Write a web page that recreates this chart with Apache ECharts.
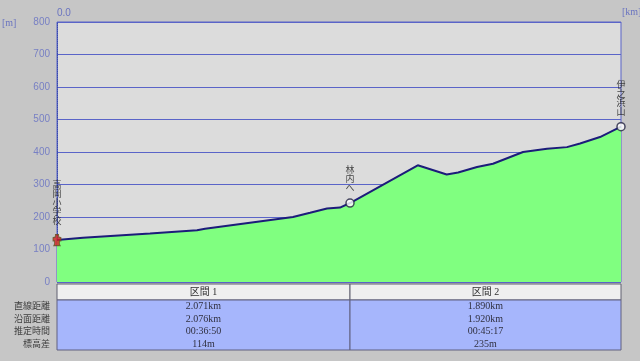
<!DOCTYPE html>
<html><head><meta charset="utf-8">
<script src="https://cdn.jsdelivr.net/npm/echarts@6/dist/echarts.min.js"></script>
<style>html,body{margin:0;padding:0;background:#c6c6c6}#c{width:640px;height:361px}</style>
</head><body><div id="c"></div>
<script>
// Profile (distance km, elevation m)
const distKm = [0, 0.184, 0.659, 0.992, 1.049, 1.672, 1.793, 1.913, 2.005, 2.076, 2.556, 2.761, 2.842, 2.976, 3.089, 3.302, 3.472, 3.613, 3.706, 3.847, 3.996];
const elevM  = [129, 136, 149, 159, 164, 200, 213, 226, 229, 243, 359, 331, 337, 354, 364, 400, 410, 415, 426, 446, 478];
// Waypoints
const wpNames = ['高岡小学校', '林内へ', '伊之浜山'];
const wpKm = [0, 2.076, 3.996];
const wpM = [129, 243, 478];
// Axis
const yMin = 0, yMax = 800, yStep = 100;
const xMin = 0, xMax = 3.996;
const xUnit = '[km]', yUnit = '[m]';
// Table
const sections = ['区間 1', '区間 2'];
const rowLabels = ['直線距離', '沿面距離', '推定時間', '標高差'];
const sec1Values = ['2.071km', '2.076km', '00:36:50', '114m'];
const sec2Values = ['1.890km', '1.920km', '00:45:17', '235m'];

const chart = echarts.init(document.getElementById('c'));
const FONT = "'Liberation Serif','Noto Sans CJK JP',serif";
const profile = distKm.map((d, i) => [d, elevM[i]]);

const option = {
  backgroundColor: '#c6c6c6',
  animation: false,
  grid: { left: 57, top: 22, width: 564, height: 260, show: true, backgroundColor: '#dcdcdc', borderColor: '#5a64c8', borderWidth: 1, containLabel: false, outerBoundsMode: 'none' },
  xAxis: {
    type: 'value', min: xMin, max: xMax, position: 'top',
    axisLine: { show: false }, axisTick: { show: false }, splitLine: { show: false },
    axisLabel: { customValues: [xMin], formatter: v => v.toFixed(1), align: 'left', margin: 4, color: '#6a74c0', fontSize: 10, fontFamily: 'Liberation Sans' }
  },
  yAxis: {
    type: 'value', min: yMin, max: yMax, interval: yStep,
    axisLine: { show: true, lineStyle: { color: '#3848b0', type: 'dotted', width: 1 } },
    axisTick: { show: false },
    splitLine: { show: true, lineStyle: { color: '#5a64c8', width: 1 } },
    axisLabel: { color: '#7880c4', fontSize: 10, fontFamily: 'Liberation Sans', margin: 7 }
  },
  series: [
    {
      type: 'line', data: profile, symbol: 'none', z: 3,
      lineStyle: { color: '#1c1c7a', width: 2 },
      areaStyle: { color: '#80ff80', opacity: 1 }
    },
    {
      type: 'line', data: [[wpKm[1], yMin], [wpKm[1], wpM[1]]], symbol: 'none', z: 2,
      lineStyle: { color: '#a8a8a8', width: 2 }
    },
    {
      type: 'scatter', z: 5,
      data: wpKm.map((d, i) => ({
        value: [d, wpM[i]],
        symbol: i === 0 ? 'path://M4,0 L8,0 L8,3 L11,4 L11,8 L9,8 L9,12 L10,14 L2,14 L3,12 L3,8 L1,8 L1,4 L4,3 Z' : 'circle',
        symbolSize: i === 0 ? [8, 11] : 8,
        itemStyle: i === 0 ? { color: '#d02020', borderColor: '#605020', borderWidth: 1 } : { color: '#ffffff', borderColor: '#202040', borderWidth: 1.5 },
        label: { distance: i === 0 ? 9 : 6 }
      })),
      label: {
        show: true, position: 'top',
        formatter: p => wpNames[p.dataIndex].split('').join('\n'),
        color: '#202020', fontSize: 9, lineHeight: 9, fontFamily: "'Noto Sans CJK JP'"
      }
    }
  ]
};
chart.setOption(option);

// Table below the plot
const left = chart.convertToPixel({ gridIndex: 0 }, [xMin, 0]);
const mid = chart.convertToPixel({ gridIndex: 0 }, [wpKm[1], 0]);
const right = chart.convertToPixel({ gridIndex: 0 }, [xMax, yMax]);
const x0 = left[0], x1 = mid[0], x2 = right[0];
const hTop = 284, hH = 16, rTop = 300, rH = 12.5;
const g = [];
const cols = [[x0, x1, sec1Values], [x1, x2, sec2Values]];
cols.forEach(([a, b, vals], ci) => {
  g.push({ type: 'rect', shape: { x: a, y: hTop, width: b - a, height: hH }, style: { fill: '#efefef', stroke: '#606070', lineWidth: 1 } });
  g.push({ type: 'rect', shape: { x: a, y: rTop, width: b - a, height: rH * rowLabels.length }, style: { fill: '#a6b6fc', stroke: '#606080', lineWidth: 1 } });
  g.push({ type: 'text', x: (a + b) / 2, y: hTop + hH / 2, style: { text: sections[ci], align: 'center', verticalAlign: 'middle', fill: '#303030', font: '10px ' + FONT } });
  vals.forEach((v, ri) => {
    g.push({ type: 'text', x: (a + b) / 2, y: rTop + rH * ri + rH / 2 + 0.5, style: { text: v, align: 'center', verticalAlign: 'middle', fill: '#303040', font: '10px ' + FONT } });
  });
});
rowLabels.forEach((t, ri) => {
  g.push({ type: 'text', x: 50, y: rTop + rH * ri + rH / 2 + 0.5, style: { text: t, align: 'right', verticalAlign: 'middle', fill: '#404040', font: '9px ' + FONT } });
});
g.push({ type: 'text', x: 2, y: 23, style: { text: yUnit, align: 'left', verticalAlign: 'middle', fill: '#6a74c0', font: '10px Liberation Serif' } });
g.push({ type: 'text', x: x2 + 1, y: 12, style: { text: xUnit, align: 'left', verticalAlign: 'middle', fill: '#6a74c0', font: '10px Liberation Serif' } });
chart.setOption({ graphic: g });
</script></body></html>
